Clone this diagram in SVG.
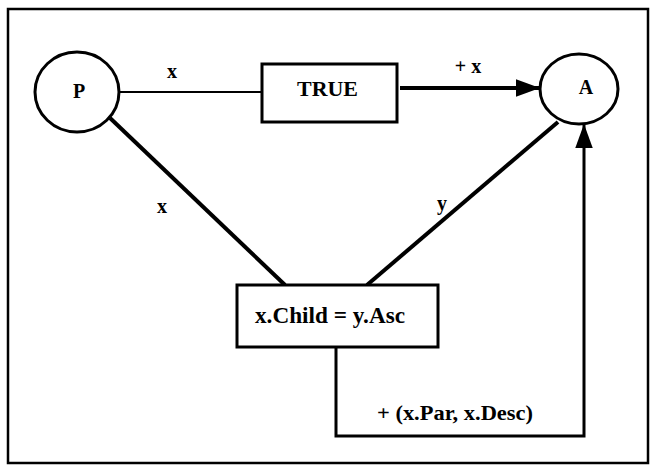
<svg xmlns="http://www.w3.org/2000/svg" width="656" height="466" viewBox="0 0 656 466">
<defs>
<style>
.lbl{font-family:"Liberation Serif","Times New Roman",serif;font-weight:bold;fill:#000;}
.node{fill:#fff;stroke:#000;stroke-width:3;}
.ln{fill:none;stroke:#000;stroke-linecap:butt;}
</style>
<marker id="ah" markerUnits="userSpaceOnUse" markerWidth="24" markerHeight="18" viewBox="0 0 22 16" refX="22" refY="8" orient="auto">
<path d="M0,0 L22,8 L0,16 Z" fill="#000"/>
</marker>
</defs>
<rect x="0" y="0" width="656" height="466" fill="#fff"/>
<rect x="8" y="9" width="640" height="454" fill="none" stroke="#000" stroke-width="2.5"/>
<g id="connectors">
<line class="ln" x1="119" y1="92" x2="262" y2="92" stroke-width="2"/>
<line class="ln" x1="400" y1="88" x2="540" y2="88" stroke-width="4" marker-end="url(#ah)"/>
<line class="ln" x1="110" y1="118" x2="285" y2="285" stroke-width="4"/>
<line class="ln" x1="558" y1="122" x2="367" y2="285" stroke-width="4"/>
<polyline class="ln" points="336,348 336,436 584,436 584,124" stroke-width="3" marker-end="url(#ah)"/>
<text class="lbl" x="172" y="78" font-size="20" text-anchor="middle">x</text>
<text class="lbl" x="468" y="73" font-size="20" text-anchor="middle">+ x</text>
<text class="lbl" x="162" y="213" font-size="20" text-anchor="middle">x</text>
<text class="lbl" x="442" y="210" font-size="20" text-anchor="middle">y</text>
<text class="lbl" x="377" y="420" font-size="20" textLength="156" lengthAdjust="spacingAndGlyphs">+ (x.Par, x.Desc)</text>
</g>
<g id="P">
<ellipse class="node" cx="77" cy="92" rx="42" ry="40"/>
<text class="lbl" x="79" y="98" font-size="20" text-anchor="middle">P</text>
</g>
<g id="A">
<ellipse class="node" cx="579" cy="89" rx="39" ry="35"/>
<text class="lbl" x="586" y="94" font-size="20" text-anchor="middle">A</text>
</g>
<g id="TRUE">
<rect class="node" x="262" y="64" width="135" height="58"/>
<text class="lbl" x="297" y="96" font-size="21" textLength="61" lengthAdjust="spacingAndGlyphs">TRUE</text>
</g>
<g id="cond">
<rect class="node" x="237" y="285" width="201" height="62"/>
<text class="lbl" x="255" y="323" font-size="24" textLength="150" lengthAdjust="spacingAndGlyphs">x.Child = y.Asc</text>
</g>
</svg>
